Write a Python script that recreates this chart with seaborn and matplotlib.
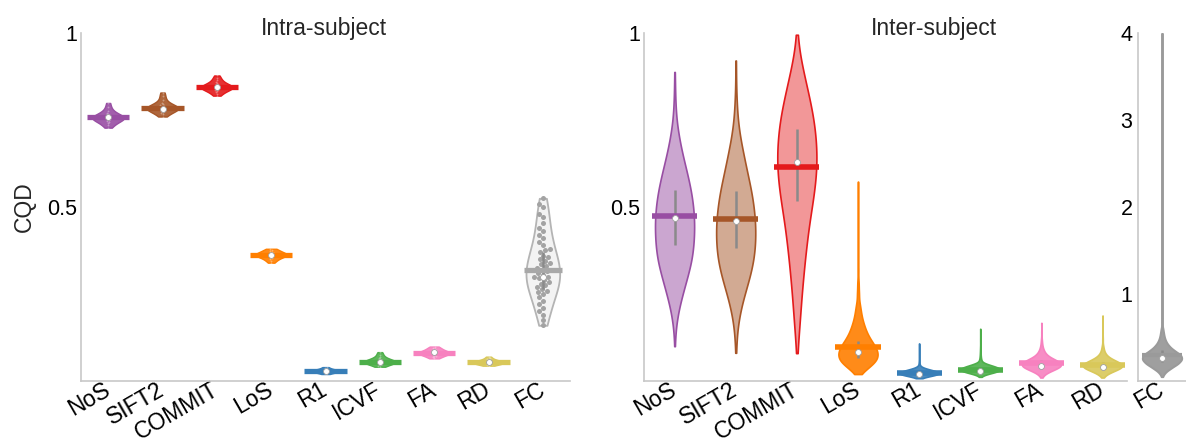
import numpy as np
import pandas as pd
import seaborn as sns
import matplotlib.pyplot as plt
from matplotlib.colors import to_rgba
import warnings

warnings.filterwarnings("ignore")

sns.set_theme(style="white")
plt.rcParams['font.family'] = ['Liberation Sans', 'DejaVu Sans']

# ---------------- data ----------------
categories = ["NoS", "SIFT2", "COMMIT", "LoS", "R1", "ICVF", "FA", "RD", "FC"]
colors = ["#984ea3", "#a65628", "#e41a1c", "#ff7f00", "#377eb8",
          "#4daf4a", "#f781bf", "#d9c85a", "#9a9a9a"]

# Intra-subject CQD values (per subject)
intra_NoS = [0.728, 0.735, 0.740, 0.744, 0.747, 0.750, 0.752, 0.754, 0.755, 0.756,
             0.757, 0.758, 0.760, 0.762, 0.764, 0.767, 0.771, 0.777, 0.786, 0.799]
intra_SIFT2 = [0.760, 0.766, 0.770, 0.774, 0.777, 0.779, 0.781, 0.782, 0.783, 0.784,
               0.785, 0.786, 0.788, 0.790, 0.792, 0.795, 0.800, 0.808, 0.818, 0.829]
intra_COMMIT = [0.820, 0.826, 0.830, 0.834, 0.837, 0.839, 0.841, 0.842, 0.843, 0.844,
                0.845, 0.846, 0.848, 0.850, 0.852, 0.855, 0.859, 0.864, 0.870, 0.878]
intra_LoS = [0.340, 0.346, 0.350, 0.353, 0.356, 0.358, 0.360, 0.361, 0.362, 0.363,
             0.364, 0.365, 0.367, 0.369, 0.371, 0.374, 0.377, 0.380]
intra_R1 = [0.020, 0.022, 0.024, 0.025, 0.026, 0.027, 0.028, 0.028, 0.029, 0.029,
            0.030, 0.030, 0.031, 0.032, 0.033, 0.035, 0.037, 0.040]
intra_ICVF = [0.041, 0.044, 0.047, 0.049, 0.051, 0.052, 0.053, 0.054, 0.055, 0.056,
              0.057, 0.058, 0.059, 0.061, 0.063, 0.066, 0.070, 0.076, 0.083]
intra_FA = [0.065, 0.068, 0.071, 0.073, 0.075, 0.077, 0.078, 0.079, 0.080, 0.081,
            0.082, 0.083, 0.084, 0.086, 0.088, 0.090, 0.093, 0.096, 0.099]
intra_RD = [0.044, 0.046, 0.048, 0.049, 0.050, 0.051, 0.052, 0.053, 0.054, 0.054,
            0.055, 0.056, 0.057, 0.058, 0.060, 0.062, 0.065, 0.070]
intra_FC = [0.525, 0.510, 0.500, 0.480, 0.470, 0.455, 0.440, 0.430, 0.420, 0.410,
            0.400, 0.390, 0.380, 0.375, 0.370, 0.360, 0.355, 0.350, 0.345, 0.340,
            0.335, 0.330, 0.325, 0.320, 0.315, 0.310, 0.305, 0.300, 0.300, 0.295,
            0.290, 0.285, 0.280, 0.275, 0.270, 0.265, 0.260, 0.255, 0.250, 0.240,
            0.230, 0.220, 0.210, 0.200, 0.190, 0.175, 0.160]
intra_values = [intra_NoS, intra_SIFT2, intra_COMMIT, intra_LoS, intra_R1,
                intra_ICVF, intra_FA, intra_RD, intra_FC]

intra_mean = [0.758, 0.785, 0.845, 0.362, 0.029, 0.056, 0.081, 0.054, 0.319]
intra_median = [0.760, 0.782, 0.846, 0.362, 0.029, 0.056, 0.082, 0.054, 0.298]
intra_q1 = [0.750, 0.779, 0.839, 0.357, 0.026, 0.052, 0.077, 0.050, 0.265]
intra_q3 = [0.764, 0.790, 0.850, 0.367, 0.031, 0.059, 0.085, 0.057, 0.370]

# Inter-subject CQD distributions (histograms: bin value / count)
inter_NoS_bins = [0.10, 0.15, 0.20, 0.25, 0.30, 0.35, 0.40, 0.45, 0.50, 0.55,
                  0.60, 0.65, 0.70, 0.75, 0.80, 0.85, 0.888]
inter_NoS_counts = [1, 5, 18, 40, 65, 88, 97, 100, 95, 82, 62, 40, 22, 9, 4, 2, 1]
inter_SIFT2_bins = [0.081, 0.10, 0.15, 0.20, 0.25, 0.30, 0.35, 0.40, 0.45, 0.50,
                    0.55, 0.60, 0.65, 0.70, 0.75, 0.80, 0.85, 0.90, 0.921]
inter_SIFT2_counts = [1, 2, 8, 22, 45, 72, 92, 100, 100, 92, 78, 58, 40, 22, 10, 5, 2, 1, 1]
inter_COMMIT_bins = [0.08, 0.10, 0.15, 0.20, 0.25, 0.30, 0.35, 0.40, 0.45, 0.50,
                     0.55, 0.60, 0.65, 0.70, 0.75, 0.80, 0.85, 0.90, 0.95, 0.995]
inter_COMMIT_counts = [1, 4, 12, 18, 24, 32, 40, 50, 60, 75, 88, 98, 100, 95, 85, 68, 48, 28, 10, 2]
inter_LoS_bins = [0.02, 0.04, 0.06, 0.08, 0.10, 0.12, 0.14, 0.16, 0.18, 0.20,
                  0.22, 0.25, 0.28, 0.32, 0.36, 0.40, 0.45, 0.50, 0.573]
inter_LoS_counts = [10, 55, 95, 100, 85, 60, 42, 30, 20, 14, 10, 7, 5, 3, 2, 1, 1, 1, 1]
inter_R1_bins = [0.008, 0.015, 0.02, 0.025, 0.03, 0.035, 0.04, 0.05, 0.06, 0.07, 0.08, 0.09, 0.108]
inter_R1_counts = [10, 60, 100, 95, 70, 30, 10, 4, 2, 1, 1, 1, 1]
inter_ICVF_bins = [0.012, 0.02, 0.025, 0.03, 0.035, 0.04, 0.045, 0.05, 0.06, 0.07,
                   0.08, 0.09, 0.10, 0.12, 0.15]
inter_ICVF_counts = [5, 30, 70, 100, 100, 80, 50, 25, 10, 5, 3, 2, 1, 1, 1]
inter_FA_bins = [0.01, 0.02, 0.03, 0.04, 0.05, 0.06, 0.07, 0.08, 0.09, 0.10,
                 0.11, 0.12, 0.14, 0.167]
inter_FA_counts = [3, 15, 50, 90, 100, 70, 35, 18, 10, 5, 3, 2, 1, 1]
inter_RD_bins = [0.01, 0.02, 0.03, 0.04, 0.05, 0.06, 0.07, 0.08, 0.09, 0.10,
                 0.12, 0.14, 0.16, 0.188]
inter_RD_counts = [3, 20, 60, 100, 95, 55, 25, 12, 6, 4, 2, 1, 1, 1]
inter_FC_bins = [0.05, 0.10, 0.15, 0.20, 0.25, 0.30, 0.35, 0.40, 0.45, 0.50,
                 0.55, 0.60, 0.70, 0.80, 1.0, 1.3, 1.7, 2.2, 2.8, 3.4, 4.0]
inter_FC_counts = [2, 15, 45, 80, 100, 95, 60, 35, 20, 12, 8, 5, 3, 2, 1, 1, 1, 1, 1, 1, 1]

inter_bins = [inter_NoS_bins, inter_SIFT2_bins, inter_COMMIT_bins, inter_LoS_bins,
              inter_R1_bins, inter_ICVF_bins, inter_FA_bins, inter_RD_bins, inter_FC_bins]
inter_counts = [inter_NoS_counts, inter_SIFT2_counts, inter_COMMIT_counts, inter_LoS_counts,
                inter_R1_counts, inter_ICVF_counts, inter_FA_counts, inter_RD_counts, inter_FC_counts]

inter_mean = [0.473, 0.465, 0.614, 0.099, 0.022, 0.032, 0.051, 0.046, 0.300]
inter_median = [0.468, 0.460, 0.628, 0.084, 0.020, 0.030, 0.043, 0.040, 0.270]
inter_q1 = [0.391, 0.382, 0.516, 0.066, 0.015, 0.024, 0.035, 0.032, 0.220]
inter_q3 = [0.549, 0.545, 0.724, 0.116, 0.030, 0.040, 0.060, 0.055, 0.360]

titles = ["Intra-subject", "Inter-subject"]
ylabel = "CQD"

# ---------------- figure ----------------
W, H = 1186, 444
fig = plt.figure(figsize=(W / 100, H / 100), dpi=100)
ax1 = fig.add_axes([81 / W, 1 - 381 / H, 489 / W, 348 / H])
ax2 = fig.add_axes([644 / W, 1 - 381 / H, 483 / W, 348 / H])
ax3 = fig.add_axes([1138 / W, 1 - 381 / H, 48 / W, 348 / H])


def draw_violin(ax, cat, values, order, color, width, face, edge,
                bw_adjust=1.0, gridsize=200, lw=1.2):
    n0 = len(ax.collections)
    df = pd.DataFrame({"cat": [cat] * len(values), "val": values})
    sns.violinplot(data=df, x="cat", y="val", order=order, color=color,
                   inner=None, cut=0, density_norm="width", width=width,
                   linewidth=lw, linecolor=edge, bw_adjust=bw_adjust,
                   gridsize=gridsize, saturation=1, ax=ax)
    for coll in ax.collections[n0:]:
        coll.set_facecolor(face)
        coll.set_edgecolor(edge)
        coll.set_zorder(2)


def draw_stats(ax, i, mean, med, q1, q3, color, barw, bar_lw=4.0):
    ax.vlines(i, q1, q3, color="#8a8a8a", lw=1.8, zorder=3)
    ax.hlines(mean, i - barw / 2, i + barw / 2, color=color, lw=bar_lw, zorder=4)
    ax.scatter([i], [med], s=18, color="white", edgecolors="#a0a0a0",
               linewidths=0.6, zorder=5)


# ---- Intra-subject panel ----
for i, (cat, vals, c) in enumerate(zip(categories, intra_values, colors)):
    if cat == "FC":
        draw_violin(ax1, cat, vals, categories, c, 0.62, to_rgba("#d8d8d8", 0.3),
                    "#b4b4b4", bw_adjust=1.0, lw=1.3)
    else:
        draw_violin(ax1, cat, vals, categories, c, 0.58, to_rgba(c, 0.9), c,
                    bw_adjust=1.0, lw=1.0)

# scatter of subjects
df_fc = pd.DataFrame({"cat": ["FC"] * len(intra_FC), "val": intra_FC})
sns.swarmplot(data=df_fc, x="cat", y="val", order=categories, color="#a3a3a3",
              size=3.6, ax=ax1, zorder=3)
df_small = pd.DataFrame({
    "cat": sum([[c] * len(v) for c, v in zip(categories[:8], intra_values[:8])], []),
    "val": sum([list(v) for v in intra_values[:8]], []),
})
sns.swarmplot(data=df_small, x="cat", y="val", order=categories, color="white",
              alpha=0.35, size=1.3, ax=ax1, zorder=3)

for i, c in enumerate(colors):
    barc = "#a8a8a8" if categories[i] == "FC" else c
    draw_stats(ax1, i, intra_mean[i], intra_median[i], intra_q1[i], intra_q3[i],
               barc, 0.78 if categories[i] != "FC" else 0.70, bar_lw=3.8)

# ---- Inter-subject panel ----
inter_alpha = [0.5, 0.5, 0.45, 0.9, 0.9, 0.9, 0.9, 0.9]
inter_bw = [1.0, 1.0, 1.0, 0.8, 1.6, 1.4, 1.2, 1.2]
for i in range(8):
    vals = np.repeat(inter_bins[i], inter_counts[i])
    draw_violin(ax2, categories[i], vals, categories[:8], colors[i], 0.64,
                to_rgba(colors[i], inter_alpha[i]), colors[i],
                bw_adjust=inter_bw[i], gridsize=300, lw=1.2)
for i in range(8):
    draw_stats(ax2, i, inter_mean[i], inter_median[i], inter_q1[i], inter_q3[i],
               colors[i], 0.74, bar_lw=4.0)

# ---- Inter-subject FC panel ----
vals_fc = np.repeat(inter_bins[8], inter_counts[8])
draw_violin(ax3, "FC", vals_fc, ["FC"], colors[8], 0.82, to_rgba(colors[8], 0.95),
            colors[8], bw_adjust=0.35, gridsize=800, lw=1.4)
draw_stats(ax3, 0, inter_mean[8], inter_median[8], inter_q1[8], inter_q3[8],
           colors[8], 0.82, bar_lw=3.0)

# ---------------- axes styling ----------------
spine_c = "#c8c8c8"
for ax in (ax1, ax2, ax3):
    for s in ("top", "right"):
        ax.spines[s].set_visible(False)
    for s in ("left", "bottom"):
        ax.spines[s].set_color(spine_c)
        ax.spines[s].set_linewidth(1.2)
    ax.set_xlabel("")
    ax.set_ylabel("")
    ax.tick_params(axis="both", which="both", direction="in", length=4,
                   color="#bdbdbd", width=1.0, labelcolor="black")
    ax.tick_params(axis="y", labelsize=15.5, pad=3)
    ax.tick_params(axis="x", labelsize=16.5, pad=5)
    ax.grid(False)
    ax.set_facecolor("white")

for ax in (ax1, ax2):
    ax.set_ylim(0, 1)
    ax.set_yticks([0.5, 1.0])
    ax.set_yticklabels(["0.5", "1"])
    ax.set_yticks(np.arange(0.1, 1.0, 0.1), minor=True)

ax1.set_xlim(-0.5, 8.5)
ax1.set_xticks(range(9))
ax1.set_xticklabels(categories)
ax2.set_xlim(-0.5, 7.4)
ax2.set_xticks(range(8))
ax2.set_xticklabels(categories[:8])

ax3.set_ylim(0, 4)
ax3.set_yticks([1, 2, 3, 4])
ax3.set_yticklabels(["1", "2", "3", "4"])
ax3.set_yticks([0.5, 1.5, 2.5, 3.5], minor=True)
ax3.set_xlim(-0.5, 0.5)
ax3.set_xticks([0])
ax3.set_xticklabels(["FC"])
ax3.tick_params(axis="y", pad=4)

for ax in (ax1, ax2, ax3):
    plt.setp(ax.get_xticklabels(), rotation=30, ha="right", va="center",
             rotation_mode="anchor")

fig.text(324 / W, 1 - 35.5 / H, titles[0], ha="center", va="baseline", fontsize=16.5)
fig.text(934 / W, 1 - 35.5 / H, titles[1], ha="center", va="baseline", fontsize=16.5)
fig.text(24 / W, 1 - 207 / H, ylabel, rotation=90, ha="center", va="center", fontsize=16.5)

fig.savefig("out.png", dpi=100, facecolor="white")
